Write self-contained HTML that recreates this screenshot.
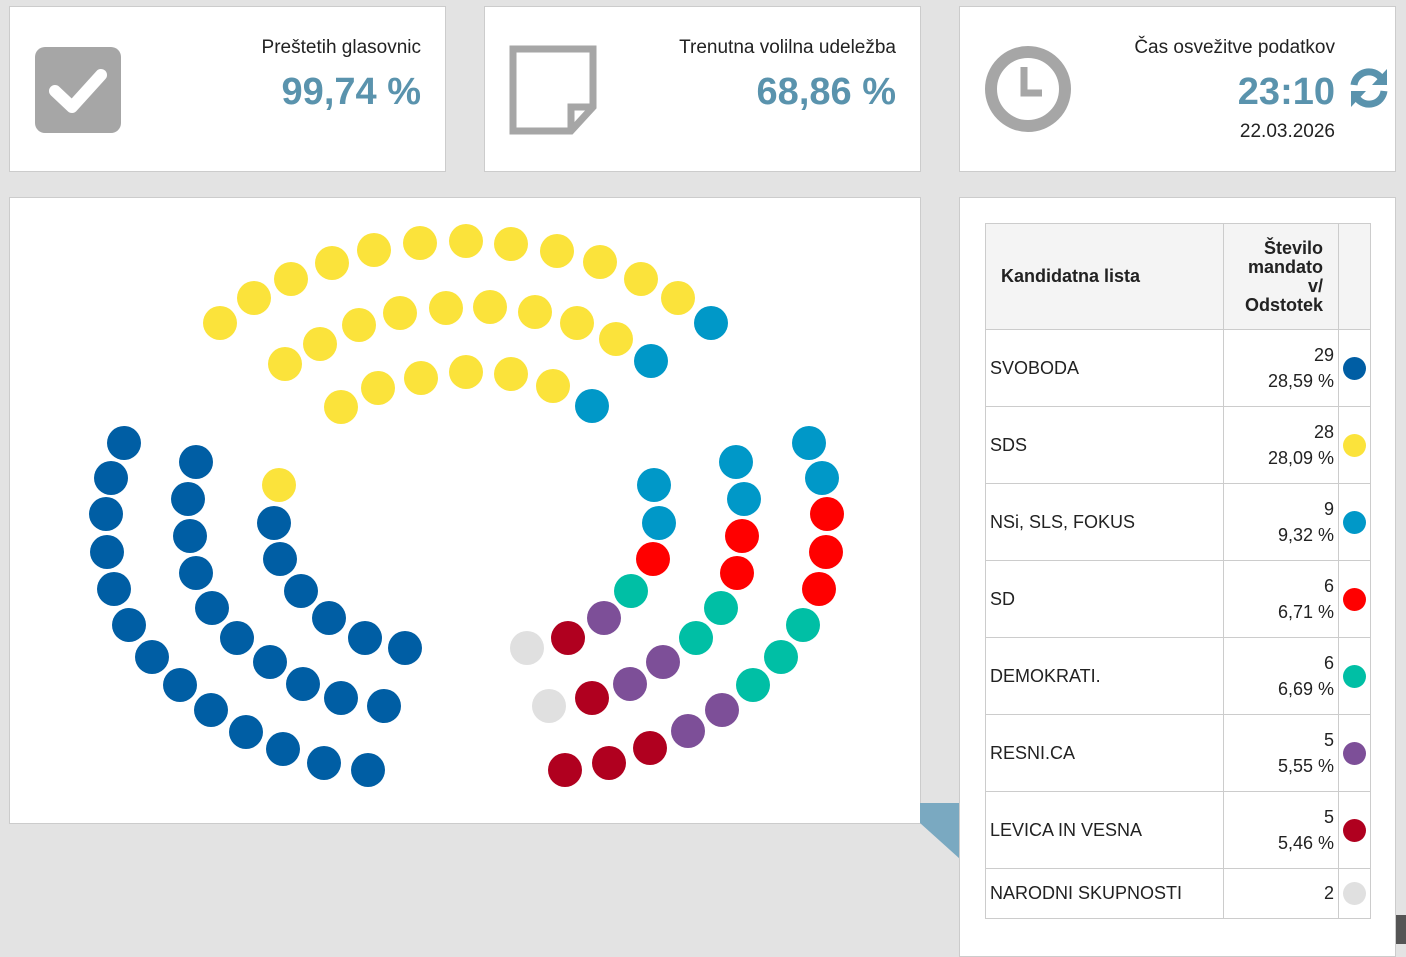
<!DOCTYPE html>
<html><head><meta charset="utf-8"><style>
body{margin:0;width:1406px;height:944px;background:#e3e3e3;font-family:"Liberation Sans",sans-serif;position:relative;overflow:hidden;color:#222}
.card{position:absolute;background:#fff;border:1px solid #ccc;box-sizing:border-box}
.lbl{position:absolute;right:24px;font-size:19px;text-align:right;color:#222}
.big{position:absolute;right:24px;font-size:38px;font-weight:bold;color:#5a93ad;text-align:right}
.d{position:absolute;width:34px;height:34px;border-radius:50%;margin:-17px 0 0 -17px}
table{position:absolute;left:985px;top:223px;border-collapse:collapse;font-size:18px}
td{border:1px solid #ccc;padding:0 4px;box-sizing:border-box}
.c{width:23px;height:23px;border-radius:50%;display:block;margin:0 auto}
</style></head><body>
<div class="card" style="left:9px;top:6px;width:437px;height:166px">
<div style="position:absolute;left:25px;top:40px;width:86px;height:86px;background:#a6a6a6;border-radius:10px"></div>
<svg style="position:absolute;left:25px;top:40px" width="86" height="86"><path d="M20 44 L37 60 L66 28" stroke="#fff" stroke-width="12" fill="none" stroke-linecap="round" stroke-linejoin="round"/></svg>
<div class="lbl" style="top:30px">Preštetih glasovnic</div><div class="big" style="top:64px">99,74 %</div></div>
<div class="card" style="left:484px;top:6px;width:437px;height:166px">
<svg style="position:absolute;left:24px;top:38px" width="90" height="90"><path d="M4 4 H84 V62 L62 86 H4 Z" fill="none" stroke="#a6a6a6" stroke-width="7"/><path d="M84 62 H62 V86" fill="none" stroke="#a6a6a6" stroke-width="7"/></svg>
<div class="lbl" style="top:30px">Trenutna volilna udeležba</div><div class="big" style="top:64px">68,86 %</div></div>
<div class="card" style="left:959px;top:6px;width:437px;height:166px">
<svg style="position:absolute;left:24px;top:38px" width="90" height="90"><circle cx="44" cy="44" r="37" fill="none" stroke="#a6a6a6" stroke-width="12"/><path d="M40 22 V48 H58" fill="none" stroke="#a6a6a6" stroke-width="7"/></svg>
<div class="lbl" style="top:30px;right:60px">Čas osvežitve podatkov</div><div class="big" style="top:64px;right:60px">23:10</div>
<svg style="position:absolute;left:386px;top:58px" width="46" height="46" viewBox="0 0 46 46"><path d="M8 20 A15 15 0 0 1 35 13" fill="none" stroke="#5a93ad" stroke-width="7"/><polygon points="41,4 41,20 26,20" fill="#5a93ad"/><path d="M38 26 A15 15 0 0 1 11 33" fill="none" stroke="#5a93ad" stroke-width="7"/><polygon points="5,42 5,26 20,26" fill="#5a93ad"/></svg>
<div class="lbl" style="top:114px;right:60px">22.03.2026</div></div>
<div class="card" style="left:9px;top:197px;width:912px;height:627px"></div>
<svg style="position:absolute;left:920px;top:803px" width="40" height="56"><polygon points="0,0 40,0 40,56 0,20" fill="#7aa9c1"/></svg>
<div style="position:absolute;left:1396px;top:915px;width:10px;height:29px;background:#555"></div>
<div class="card" style="left:959px;top:197px;width:437px;height:760px"></div>
<table>
<tr style="height:106px;background:#f4f4f4;font-weight:bold"><td style="width:238px;padding-left:15px">Kandidatna lista</td><td style="width:115px;text-align:right;line-height:19px;padding-right:15px">Število<br>mandato<br>v/<br>Odstotek</td><td style="width:31px"></td></tr>
<tr style="height:77px"><td>SVOBODA</td><td style="text-align:right;line-height:26px">29<br>28,59 %</td><td><span class="c" style="background:#005ea4"></span></td></tr>
<tr style="height:77px"><td>SDS</td><td style="text-align:right;line-height:26px">28<br>28,09 %</td><td><span class="c" style="background:#fbe33b"></span></td></tr>
<tr style="height:77px"><td>NSi, SLS, FOKUS</td><td style="text-align:right;line-height:26px">9<br>9,32 %</td><td><span class="c" style="background:#0098c8"></span></td></tr>
<tr style="height:77px"><td>SD</td><td style="text-align:right;line-height:26px">6<br>6,71 %</td><td><span class="c" style="background:#f00"></span></td></tr>
<tr style="height:77px"><td>DEMOKRATI.</td><td style="text-align:right;line-height:26px">6<br>6,69 %</td><td><span class="c" style="background:#00bfa5"></span></td></tr>
<tr style="height:77px"><td>RESNI.CA</td><td style="text-align:right;line-height:26px">5<br>5,55 %</td><td><span class="c" style="background:#7d4f98"></span></td></tr>
<tr style="height:77px"><td>LEVICA IN VESNA</td><td style="text-align:right;line-height:26px">5<br>5,46 %</td><td><span class="c" style="background:#b0001f"></span></td></tr>
<tr style="height:50px"><td>NARODNI SKUPNOSTI</td><td style="text-align:right">2</td><td><span class="c" style="background:#e0e0e0"></span></td></tr>
</table>
<div id="dots"></div>
<script>
var Y='#fbe33b',B='#005ea4',L='#0098c8',R='#f00',T='#00bfa5',P='#7d4f98',C='#b0001f',G='#e0e0e0';
var d=[[220,323,Y],[254,298,Y],[291,279,Y],[332,263,Y],[374,250,Y],[420,243,Y],[466,241,Y],[511,244,Y],[557,251,Y],[600,262,Y],[641,279,Y],[678,298,Y],[711,323,L],
[285,364,Y],[320,344,Y],[359,325,Y],[400,313,Y],[446,308,Y],[490,307,Y],[535,312,Y],[577,323,Y],[616,339,Y],[651,361,L],
[341,407,Y],[378,388,Y],[421,378,Y],[466,372,Y],[511,374,Y],[553,386,Y],[592,406,L],
[124,443,B],[111,478,B],[106,514,B],[107,552,B],[114,589,B],[129,625,B],[152,657,B],[180,685,B],[211,710,B],[246,732,B],[283,749,B],[324,763,B],[368,770,B],
[196,462,B],[188,499,B],[190,536,B],[196,573,B],[212,608,B],[237,638,B],[270,662,B],[303,684,B],[341,698,B],[384,706,B],
[279,485,Y],[274,523,B],[280,559,B],[301,591,B],[329,618,B],[365,638,B],[405,648,B],
[809,443,L],[822,478,L],[827,514,R],[826,552,R],[819,589,R],[803,625,T],[781,657,T],[753,685,T],[722,710,P],[688,731,P],[650,748,C],[609,763,C],[565,770,C],
[736,462,L],[744,499,L],[742,536,R],[737,573,R],[721,608,T],[696,638,T],[663,662,P],[630,684,P],[592,698,C],[549,706,G],
[654,485,L],[659,523,L],[653,559,R],[631,591,T],[604,618,P],[568,638,C],[527,648,G]];
var h='';d.forEach(function(p){h+='<div class="d" style="left:'+p[0]+'px;top:'+p[1]+'px;background:'+p[2]+'"></div>'});
document.getElementById('dots').innerHTML=h;
</script>
</body></html>
